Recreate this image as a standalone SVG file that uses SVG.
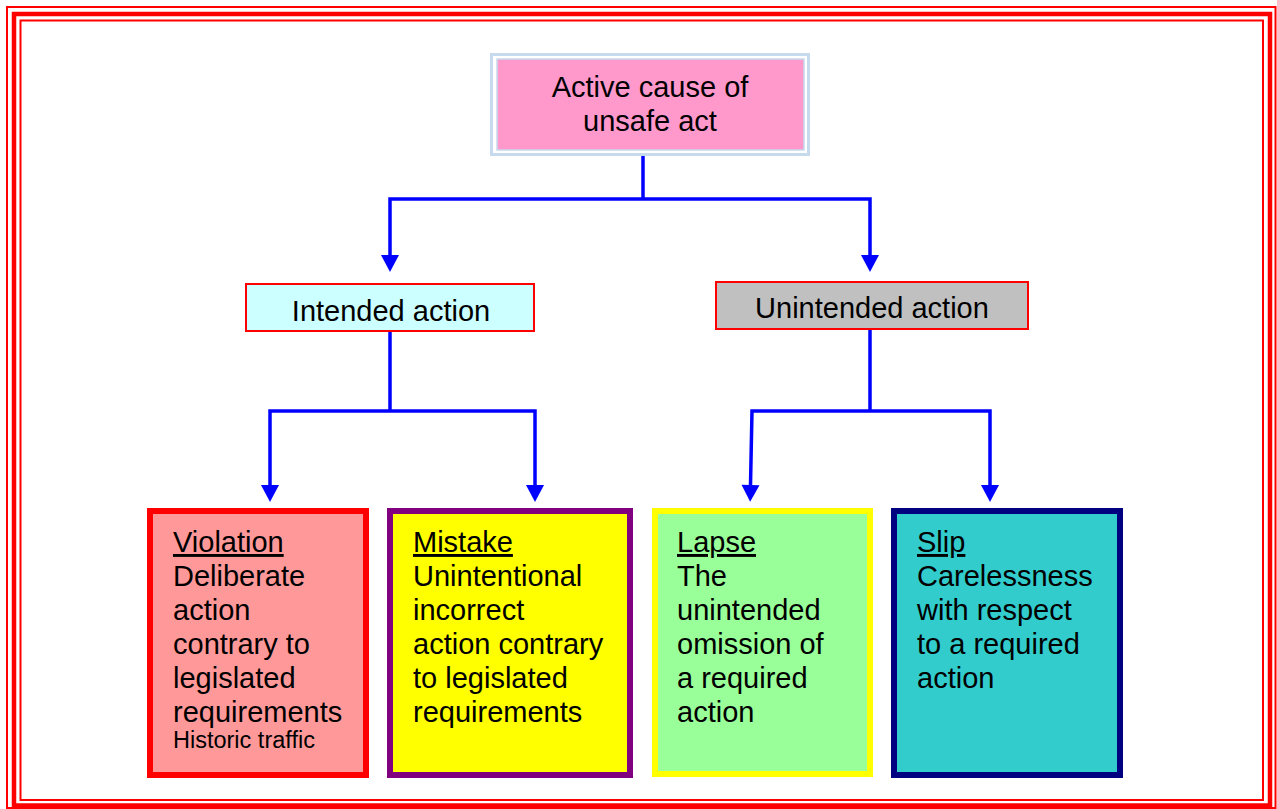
<svg xmlns="http://www.w3.org/2000/svg" width="1277" height="809" viewBox="0 0 1277 809">
<defs>
<marker id="arr" markerUnits="userSpaceOnUse" markerWidth="18" markerHeight="18" refX="0" refY="8" orient="auto" viewBox="0 0 16 16" overflow="visible">
<path d="M0,0 L15,8 L0,16 Z" fill="#0000ff"/>
</marker>
<style>
text{font-family:"Liberation Sans",Arial,sans-serif;fill:#000;}
.big{font-size:29px;}
.small{font-size:23.5px;}
.c{text-anchor:middle;}
.u{text-decoration:underline;}
.conn path{fill:none;stroke:#0000ff;stroke-width:3.5;}
.frame rect{fill:none;stroke:#ff0000;}
</style>
</defs>
<rect width="1277" height="809" fill="#ffffff"/>
<g class="frame" id="frame">
<rect x="7" y="7" width="1268.5" height="801" stroke-width="2"/>
<rect x="14" y="14" width="1256" height="791.5" stroke-width="4.5"/>
<rect x="20.5" y="20.5" width="1242.5" height="779.5" stroke-width="2"/>
</g>
<g class="conn" id="connectors">
<path d="M643,155 V199"/>
<path d="M643,199 H390 V255" marker-end="url(#arr)"/>
<path d="M643,199 H870 V255" marker-end="url(#arr)"/>
<path d="M390,332 V411"/>
<path d="M390,411 H270 V485" marker-end="url(#arr)"/>
<path d="M390,411 H535 V485" marker-end="url(#arr)"/>
<path d="M870,329 V411"/>
<path d="M870,411 H752 L750.5,485" marker-end="url(#arr)"/>
<path d="M870,411 H990 V485" marker-end="url(#arr)"/>
</g>
<g id="active-cause">
<rect x="491.5" y="54.5" width="317" height="100" fill="#ffffff" stroke="#c6daee" stroke-width="3"/>
<rect x="497" y="59" width="307" height="91" fill="#ff99cc" stroke="#c6daee" stroke-width="1.5"/>
<text class="big c" x="650" y="97">Active cause of</text>
<text class="big c" x="650" y="131">unsafe act</text>
</g>
<g id="intended">
<rect x="246" y="284" width="288" height="47" fill="#ccffff" stroke="#ff0000" stroke-width="2"/>
<text class="big c" x="391" y="321">Intended action</text>
</g>
<g id="unintended">
<rect x="716" y="282" width="312" height="47" fill="#c0c0c0" stroke="#ff0000" stroke-width="2"/>
<text class="big c" x="872" y="318">Unintended action</text>
</g>
<g id="violation">
<rect x="150" y="511" width="216" height="264" fill="#ff9999" stroke="#ff0000" stroke-width="6"/>
<text class="big" x="173" y="552"><tspan class="u">Violation</tspan><tspan x="173" dy="34">Deliberate</tspan><tspan x="173" dy="34">action</tspan><tspan x="173" dy="34">contrary to</tspan><tspan x="173" dy="34">legislated</tspan><tspan x="173" dy="34">requirements</tspan></text>
<text class="small" x="173" y="748">Historic traffic</text>
</g>
<g id="mistake">
<rect x="390" y="511" width="240" height="264" fill="#ffff00" stroke="#800080" stroke-width="6"/>
<text class="big" x="413" y="552"><tspan class="u">Mistake</tspan><tspan x="413" dy="34">Unintentional</tspan><tspan x="413" dy="34">incorrect</tspan><tspan x="413" dy="34">action contrary</tspan><tspan x="413" dy="34">to legislated</tspan><tspan x="413" dy="34">requirements</tspan></text>
</g>
<g id="lapse">
<rect x="655" y="511" width="215" height="263" fill="#99ff99" stroke="#ffff00" stroke-width="6"/>
<text class="big" x="677" y="552"><tspan class="u">Lapse</tspan><tspan x="677" dy="34">The</tspan><tspan x="677" dy="34">unintended</tspan><tspan x="677" dy="34">omission of</tspan><tspan x="677" dy="34">a required</tspan><tspan x="677" dy="34">action</tspan></text>
</g>
<g id="slip">
<rect x="894" y="511" width="226" height="264" fill="#33cccc" stroke="#000080" stroke-width="6"/>
<text class="big" x="917" y="552"><tspan class="u">Slip</tspan><tspan x="917" dy="34">Carelessness</tspan><tspan x="917" dy="34">with respect</tspan><tspan x="917" dy="34">to a required</tspan><tspan x="917" dy="34">action</tspan></text>
</g>
</svg>
